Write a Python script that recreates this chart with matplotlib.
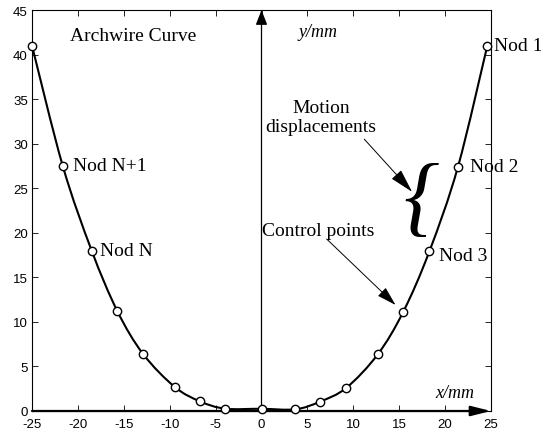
import matplotlib
matplotlib.use("Agg")
import matplotlib.pyplot as plt
from matplotlib.path import Path
from matplotlib.patches import PathPatch

plt.rcParams["axes.unicode_minus"] = False

# control points of the archwire curve
x_pts = [-25.0, -21.65, -18.5, -15.7, -12.9, -9.45, -6.67, -3.94, 0.0,
         3.68, 6.37, 9.24, 12.66, 15.45, 18.28, 21.4, 24.6]
y_pts = [41.0, 27.5, 18.0, 11.2, 6.4, 2.7, 1.07, 0.26, 0.25,
         0.19, 1.05, 2.6, 6.35, 11.15, 17.9, 27.4, 41.0]

node_labels = ["Nod 1", "Nod 2", "Nod 3", "Nod N+1", "Nod N"]
node_pos = [(25.3, 41.0), (22.7, 27.4), (19.3, 17.4), (-20.5, 27.5), (-17.6, 18.0)]

x_ticks = list(range(-25, 26, 5))
y_ticks = list(range(0, 46, 5))

serif = "Liberation Serif"


def smooth_path(xs, ys):
    # Catmull-Rom style bezier handles so the wire is drawn as a smooth curve
    verts = [(xs[0], ys[0])]
    codes = [Path.MOVETO]
    n = len(xs)
    for i in range(n - 1):
        x0, y0 = (xs[i - 1], ys[i - 1]) if i > 0 else (xs[i], ys[i])
        x3, y3 = (xs[i + 2], ys[i + 2]) if i + 2 < n else (xs[i + 1], ys[i + 1])
        c1 = (xs[i] + (xs[i + 1] - x0) / 6, ys[i] + (ys[i + 1] - y0) / 6)
        c2 = (xs[i + 1] - (x3 - xs[i]) / 6, ys[i + 1] - (y3 - ys[i]) / 6)
        verts += [c1, c2, (xs[i + 1], ys[i + 1])]
        codes += [Path.CURVE4] * 3
    return Path(verts, codes)


fig = plt.figure(figsize=(5.41, 4.35), dpi=100)
ax = fig.add_axes([32 / 541, 1 - 412 / 435, 459 / 541, 401 / 435])

ax.add_patch(PathPatch(smooth_path(x_pts, y_pts), fill=False, edgecolor="black",
                       lw=1.5, zorder=3))
ax.plot(x_pts, y_pts, "o", ms=6, mfc="white", mec="black", mew=1.0, zorder=4, clip_on=False)

ax.set_xlim(-25, 25)
ax.set_ylim(0, 45)
ax.set_xticks(x_ticks)
ax.set_yticks(y_ticks)
ax.tick_params(direction="in", top=True, right=True, length=4, width=0.6,
               labelsize=9.5)
ax.tick_params(axis="x", pad=5)
ax.tick_params(axis="y", pad=3)
for lab in ax.get_xticklabels() + ax.get_yticklabels():
    lab.set_family("Liberation Sans")
for s in ax.spines.values():
    s.set_linewidth(0.8)

# coordinate axes with arrows
ax.annotate("", xy=(0, 45), xytext=(0, 0),
            arrowprops=dict(arrowstyle="-|>,head_length=0.9,head_width=0.35",
                            color="black", lw=0.9, shrinkA=0, shrinkB=0))
ax.annotate("", xy=(25, 0), xytext=(-25, 0), annotation_clip=False,
            arrowprops=dict(arrowstyle="-|>,head_length=1.2,head_width=0.3",
                            color="black", lw=1.6, shrinkA=0, shrinkB=0))

ax.text(6.2, 42.6, "y/mm", family=serif, style="italic", fontsize=13, ha="center", va="center")
ax.text(21.1, 2.1, "x/mm", family=serif, style="italic", fontsize=13, ha="center", va="center")
ax.text(-20.9, 42.1, "Archwire Curve", family=serif, fontsize=14, ha="left", va="center")

for lab, (tx, ty) in zip(node_labels, node_pos):
    ax.text(tx, ty, lab, family=serif, fontsize=14, ha="left", va="center", clip_on=False)

ax.text(6.5, 33.0, "Motion\ndisplacements", family=serif, fontsize=14,
        ha="center", va="center", linespacing=1.15)
ax.annotate("", xy=(16.4, 24.6), xytext=(11.2, 30.5),
            arrowprops=dict(arrowstyle="-|>,head_length=1.5,head_width=0.4",
                            color="black", lw=0.7, shrinkA=0, shrinkB=0))
ax.text(17.4, 23.4, "{", family=serif, style="italic", fontsize=64, ha="center", va="center")

ax.text(0.1, 20.2, "Control points", family=serif, fontsize=14, ha="left", va="center")
ax.annotate("", xy=(14.6, 11.9), xytext=(7.1, 19.3),
            arrowprops=dict(arrowstyle="-|>,head_length=1.2,head_width=0.35",
                            color="black", lw=0.7, shrinkA=0, shrinkB=0))

fig.savefig("out.png", dpi=100)
